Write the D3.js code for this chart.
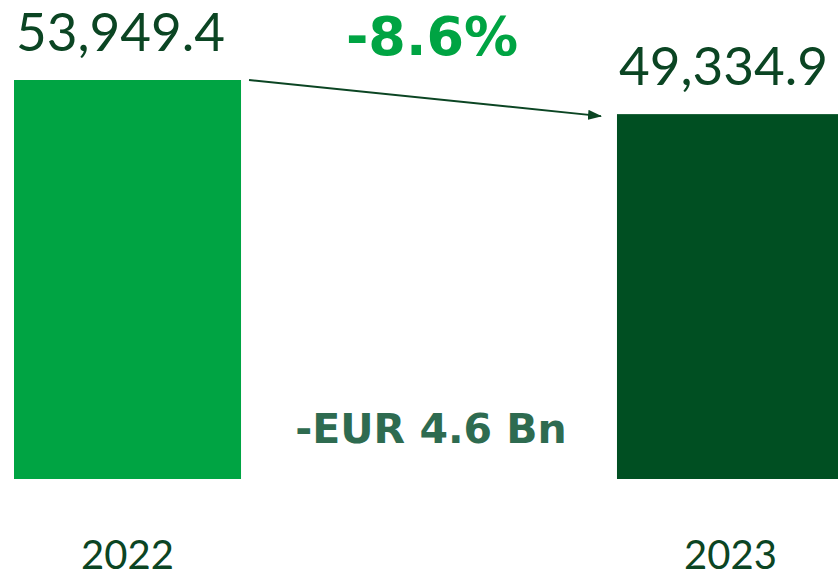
<!DOCTYPE html>
<html>
<head>
<meta charset="utf-8">
<script src="https://cdn.jsdelivr.net/npm/d3@7"></script>
<style>
  body { margin: 0; background: #fff; }
  svg { display: block; }
</style>
</head>
<body>
<svg id="chart" width="838" height="577"></svg>
<script>
const years = ['2022', '2023'];
const values = [53949.4, 49334.9];
const valueLabels = ['53,949.4', '49,334.9'];
const changePct = '-8.6%';
const changeAbs = '-EUR 4.6 Bn';

const barColors = ['#00a443', '#004f22'];
const textDark = '#0b4523';

const svg = d3.select('#chart');

const x = d3.scaleBand().domain(years).range([14, 844]).paddingInner(0.6235);
const y = d3.scaleLinear().domain([0, d3.max(values)]).range([479, 80]);

const data = years.map((yr, i) => ({ year: yr, value: values[i], label: valueLabels[i] }));

svg.append('defs')
  .append('marker')
  .attr('id', 'arrowHead')
  .attr('viewBox', '0 0 14 10')
  .attr('refX', 13)
  .attr('refY', 5)
  .attr('markerWidth', 14)
  .attr('markerHeight', 10)
  .attr('markerUnits', 'userSpaceOnUse')
  .attr('orient', 'auto')
  .append('path')
  .attr('d', 'M0,0 L14,5 L0,10 z')
  .attr('fill', textDark);

// bars
svg.append('g')
  .selectAll('rect')
  .data(data)
  .join('rect')
  .attr('x', d => x(d.year))
  .attr('y', d => y(d.value))
  .attr('width', x.bandwidth())
  .attr('height', d => y(0) - y(d.value))
  .attr('fill', (d, i) => barColors[i]);

// value labels above bars
svg.append('g')
  .selectAll('text')
  .data(data)
  .join('text')
  .attr('x', d => x(d.year) + 2)
  .attr('y', d => y(d.value) - 29)
  .attr('font-family', 'Lato, sans-serif')
  .attr('font-size', 53)
  .attr('fill', textDark)
  .text(d => d.label);

// year labels
svg.append('g')
  .selectAll('text')
  .data(data)
  .join('text')
  .attr('x', d => x(d.year) + x.bandwidth() / 2)
  .attr('y', 569)
  .attr('text-anchor', 'middle')
  .attr('font-family', 'Lato, sans-serif')
  .attr('font-size', 40)
  .attr('fill', textDark)
  .text(d => d.year);

// arrow between bar tops
const a = data[0], b = data[1];
svg.append('line')
  .attr('x1', x(a.year) + x.bandwidth() + 8)
  .attr('y1', y(a.value))
  .attr('x2', x(b.year) - 16)
  .attr('y2', y(b.value) + 2)
  .attr('stroke', textDark)
  .attr('stroke-width', 2)
  .attr('marker-end', 'url(#arrowHead)');

const midX = (x(a.year) + x.bandwidth() + x(b.year)) / 2;

svg.append('text')
  .attr('x', midX + 3)
  .attr('y', 55)
  .attr('text-anchor', 'middle')
  .attr('font-family', '"DejaVu Sans", sans-serif')
  .attr('font-weight', 'bold')
  .attr('font-size', 54)
  .attr('fill', '#00a443')
  .text(changePct);

svg.append('text')
  .attr('x', midX + 2)
  .attr('y', 443)
  .attr('text-anchor', 'middle')
  .attr('font-family', '"DejaVu Sans", sans-serif')
  .attr('font-weight', 'bold')
  .attr('font-size', 41)
  .attr('fill', '#2e6b50')
  .text(changeAbs);
</script>
</body>
</html>
